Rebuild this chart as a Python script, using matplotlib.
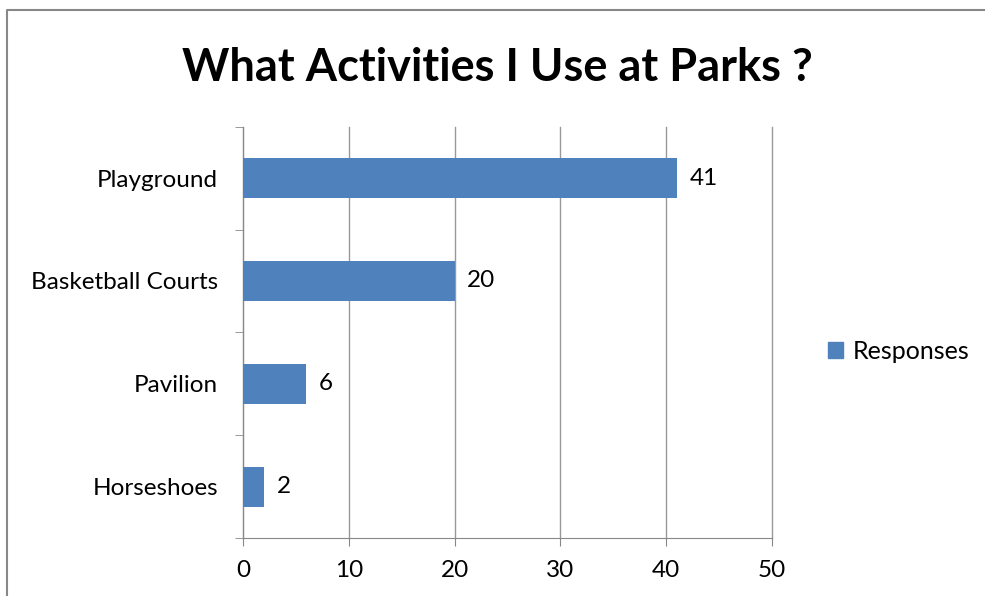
import matplotlib
matplotlib.use('Agg')
import matplotlib.pyplot as plt
from matplotlib.patches import Patch

# data
categories = ['Horseshoes', 'Pavilion', 'Basketball Courts', 'Playground']
responses = [2, 6, 20, 41]
xticks = [0, 10, 20, 30, 40, 50]

plt.rcParams['font.family'] = ['Lato', 'DejaVu Sans']

fig = plt.figure(figsize=(9.85, 5.96), dpi=100)
ax = fig.add_axes([0.2467, 0.0973, 0.537, 0.69])

pos = list(range(len(categories)))
bars = ax.barh(pos, responses, height=0.39, color='#4F81BD', zorder=3)

for y, v in zip(pos, responses):
    ax.text(v + 1.2, y, str(v), va='center', ha='left', fontsize=17.5, color='black')

ax.set_xlim(0, 50)
ax.set_ylim(-0.5, len(categories) - 0.5)
ax.set_xticks(xticks)
ax.set_xticklabels([str(t) for t in xticks], fontsize=17.5)
ax.set_yticks(pos)
ax.set_yticklabels(categories, fontsize=17.5)
ax.tick_params(axis='y', length=0, pad=18)
ax.set_yticks([p - 0.5 for p in pos] + [len(pos) - 0.5], minor=True)
ax.tick_params(axis='y', which='minor', length=6, color='#888888')
ax.tick_params(axis='x', length=6, color='#888888', pad=10)

ax.grid(axis='x', color='#999999', linewidth=1, zorder=0)
for gl in ax.get_xgridlines():
    gl.set_clip_on(False)
for s in ['top', 'right']:
    ax.spines[s].set_visible(False)
for s in ['left', 'bottom']:
    ax.spines[s].set_color('#888888')

fig.text(0.505, 0.886, 'What Activities I Use at Parks ?', ha='center', va='center',
         fontsize=32.5, fontweight='bold')

fig.legend(handles=[Patch(color='#4F81BD', label='Responses')], loc='center left',
           bbox_to_anchor=(0.818, 0.41), frameon=False, fontsize=18,
           handlelength=0.6, handleheight=0.6, handletextpad=0.4)

# chart-area border
fig.add_artist(plt.Line2D([0.007, 0.007, 1.0], [0.0, 0.983, 0.983],
                          transform=fig.transFigure, color='#888888', linewidth=1.5))

fig.savefig('out.png', dpi=100)
